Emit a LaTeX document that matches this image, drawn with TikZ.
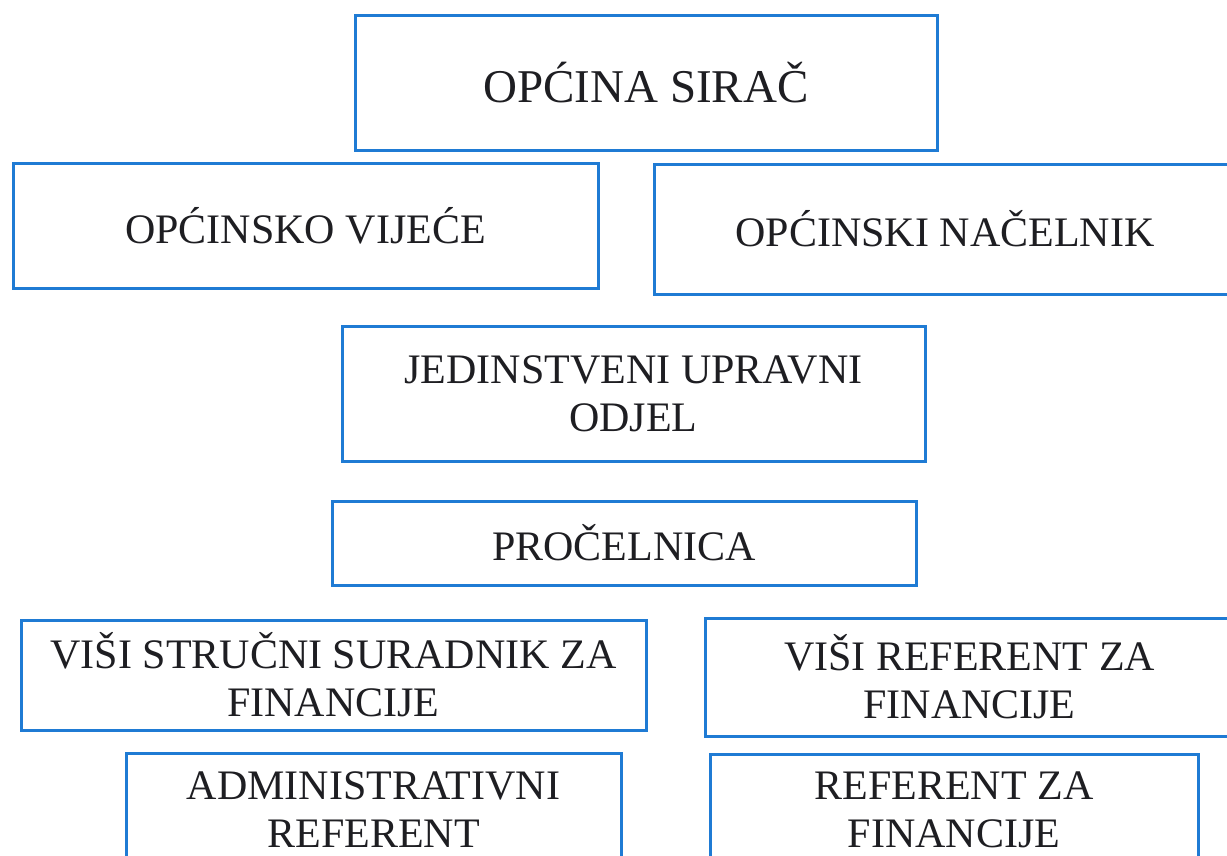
\documentclass[tikz,border=0pt]{standalone}
\usepackage{fontspec}
\setmainfont{Liberation Serif}
\definecolor{boxblue}{RGB}{31,123,212}
\definecolor{ink}{RGB}{30,30,34}
\begin{document}
\begin{tikzpicture}[x=1pt,y=-1pt,
  orgbox/.style={draw=boxblue, line width=3pt, rectangle, inner sep=0pt,
    align=center, text=ink, font=\fontsize{42}{48}\selectfont},
  topbox/.style={orgbox, font=\fontsize{47}{54}\selectfont}]
\fill[white] (0,0) rectangle (1227,855);
\useasboundingbox (0,0) rectangle (1227,855);
\node[topbox, minimum width=582pt, minimum height=135pt] (sirac) at (646,82.5) {OPĆINA SIRAČ};
\node[orgbox, minimum width=585pt, minimum height=125pt] (vijece) at (305.5,225.5) {OPĆINSKO VIJEĆE};
\node[orgbox, minimum width=582pt, minimum height=130pt] (nacelnik) at (945,229) {OPĆINSKI NAČELNIK};
\node[orgbox, minimum width=583pt, minimum height=135pt] (odjel) at (633.5,393.5) {JEDINSTVENI UPRAVNI\\ODJEL};
\node[orgbox, minimum width=584pt, minimum height=84pt] (procelnica) at (624,543) {PROČELNICA};
\node[orgbox, minimum width=625pt, minimum height=110pt] (suradnik) at (333.5,675) {VIŠI STRUČNI SURADNIK ZA\\FINANCIJE};
\node[orgbox, minimum width=529pt, minimum height=118pt] (visiref) at (969.5,677) {VIŠI REFERENT ZA\\FINANCIJE};
\node[orgbox, minimum width=495pt, minimum height=113pt] (admin) at (373.5,809.5) {ADMINISTRATIVNI\\REFERENT};
\node[orgbox, minimum width=488pt, minimum height=112pt] (referent) at (954,810) {REFERENT ZA\\FINANCIJE};
\end{tikzpicture}
\end{document}
